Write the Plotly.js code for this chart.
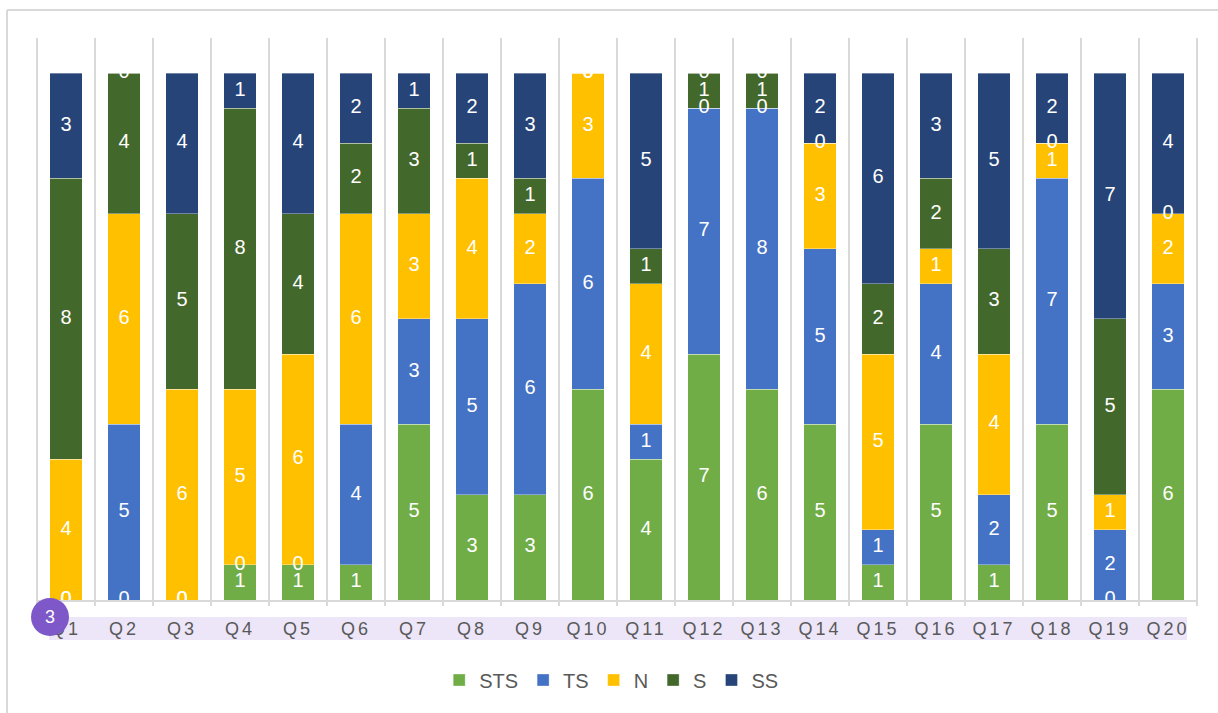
<!DOCTYPE html>
<html>
<head>
<meta charset="utf-8">
<script src="https://cdn.plot.ly/plotly-3.0.1.min.js"></script>
<style>
  html, body { margin: 0; padding: 0; background: #fff; }
  #chart { width: 1218px; height: 713px; }
  .xtick text { letter-spacing: 3px; }
</style>
</head>
<body>
<div id="chart"></div>
<script>
const categories = ['Q1','Q2','Q3','Q4','Q5','Q6','Q7','Q8','Q9','Q10','Q11','Q12','Q13','Q14','Q15','Q16','Q17','Q18','Q19','Q20'];
const seriesNames = ['STS','TS','N','S','SS'];
const stsValues = [0,0,0,1,1,1,5,3,3,6,4,7,6,5,1,5,1,5,0,6];
const tsValues  = [0,5,0,0,0,4,3,5,6,6,1,7,8,5,1,4,2,7,2,3];
const nValues   = [4,6,6,5,6,6,3,4,2,3,4,0,0,3,5,1,4,1,1,2];
const sValues   = [8,4,5,8,4,2,3,1,1,0,1,1,1,0,2,2,3,0,5,0];
const ssValues  = [3,0,4,1,4,2,1,2,3,0,5,0,0,2,6,3,5,2,7,4];
const seriesColors = ['#70AD47','#4472C4','#FFC000','#43682B','#264478'];

const allValues = [stsValues, tsValues, nValues, sValues, ssValues];
const traces = [];
const base = categories.map(() => 0);
const labelTraces = [];
allValues.forEach((vals, si) => {
  traces.push({
    type: 'bar', name: seriesNames[si], x: categories, y: vals,
    marker: { color: seriesColors[si], line: { color: 'rgba(255,255,255,0.35)', width: 1 } },
    hoverinfo: 'x+y+name'
  });
  const mids = vals.map((v, i) => base[i] + v / 2);
  labelTraces.push({
    type: 'scatter', mode: 'text', x: categories, y: mids,
    text: vals.map(String), textposition: 'middle center',
    textfont: { family: 'Liberation Sans, Arial, sans-serif', size: 20, color: '#ffffff' },
    showlegend: false, hoverinfo: 'skip', cliponaxis: true
  });
  vals.forEach((v, i) => { base[i] += v; });
});

const W = 1218, H = 713, L = 37, R = 21, T = 73, B = 113;
const pw = W - L - R, ph = H - T - B;
const px = v => (v - L) / pw;
const py = v => (H - B - v) / ph;

const shapes = [];
// outer border (top & left)
shapes.push({ type: 'line', xref: 'paper', yref: 'paper', x0: px(7), x1: px(1218), y0: py(10), y1: py(10), line: { color: '#d9d9d9', width: 2 } });
shapes.push({ type: 'line', xref: 'paper', yref: 'paper', x0: px(7), x1: px(7), y0: py(10), y1: py(713), line: { color: '#d9d9d9', width: 2 } });
// vertical gridlines at category boundaries
for (let i = 0; i <= categories.length; i++) {
  shapes.push({ type: 'line', xref: 'paper', yref: 'paper', layer: 'below', x0: i / categories.length, x1: i / categories.length, y0: py(606), y1: py(38), line: { color: '#d9d9d9', width: 2 } });
}
// lavender band behind tick labels
shapes.push({ type: 'rect', xref: 'paper', yref: 'paper', layer: 'below', x0: px(49), x1: px(1187), y0: py(640), y1: py(617), fillcolor: '#ECE6F8', line: { width: 0 } });
// purple badge
shapes.push({ type: 'circle', xref: 'paper', yref: 'paper', layer: 'above', x0: px(31), x1: px(69), y0: py(636), y1: py(598), fillcolor: '#7E57C8', line: { width: 0 } });

const layout = {
  width: W, height: H,
  margin: { l: L, r: R, t: T, b: B, pad: 0 },
  paper_bgcolor: '#ffffff', plot_bgcolor: 'rgba(0,0,0,0)',
  barmode: 'stack', bargap: 0.44,
  showlegend: true,
  legend: {
    orientation: 'h', x: 0.495, xanchor: 'center', y: py(680), yanchor: 'middle',
    font: { family: 'Liberation Sans Narrow, Liberation Sans, Arial, sans-serif', size: 20, color: '#595959' },
    traceorder: 'normal', itemclick: false
  },
  xaxis: {
    type: 'category', range: [-0.5, categories.length - 0.5], autorange: false,
    showgrid: false, zeroline: false,
    showline: true, linecolor: '#d9d9d9', linewidth: 2,
    ticks: 'outside', ticklen: 11, tickcolor: 'rgba(0,0,0,0)',
    tickfont: { family: 'Liberation Sans, Arial, sans-serif', size: 18, color: '#595959' },
    fixedrange: true
  },
  yaxis: {
    range: [0, 15], autorange: false, showgrid: false, zeroline: false, showticklabels: false,
    showline: false, ticks: '', fixedrange: true
  },
  shapes: shapes,
  annotations: [{
    xref: 'paper', yref: 'paper', x: px(50), y: py(617), text: '3', showarrow: false,
    font: { family: 'Liberation Sans, Arial, sans-serif', size: 18, color: '#ffffff' },
    xanchor: 'center', yanchor: 'middle'
  }]
};

Plotly.newPlot('chart', traces.concat(labelTraces), layout, { displayModeBar: false, staticPlot: true });
</script>
</body>
</html>
